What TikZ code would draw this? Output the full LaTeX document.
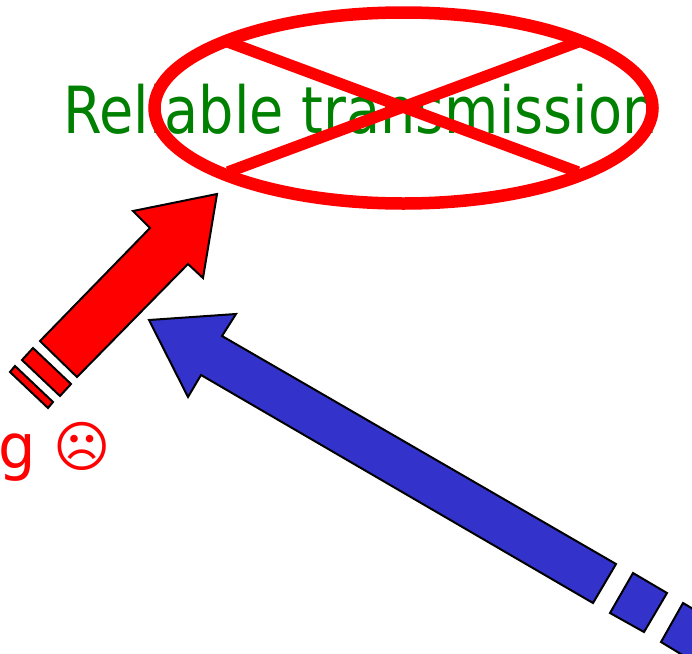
\documentclass[tikz,border=0pt]{standalone}
\usepackage{fontspec}
\setmainfont{DejaVu Sans}
\newfontfamily\condfont[FakeStretch=0.857]{DejaVu Sans}
\newfontfamily\gfont[FakeStretch=0.95]{DejaVu Sans}
\definecolor{tgreen}{RGB}{0,128,0}
\definecolor{tblue}{RGB}{51,51,204}
\tikzset{
  redshape/.style={draw=black,fill=red,line width=2pt,line join=miter},
  blueshape/.style={draw=black,fill=tblue,line width=2pt,line join=miter},
  crossline/.style={draw=red,line width=11.5pt},
}
\begin{document}
\begin{tikzpicture}[x=1pt,y=-1pt]
\useasboundingbox (0,0) rectangle (692,653);
\clip (0,0) rectangle (692,653);
\node[anchor=base west,inner sep=0pt,text=tgreen] (title) at (63,133) {\condfont\fontsize{65}{70}\selectfont Reliable transmission};
\node[anchor=base west,inner sep=0pt,text=red] (gchar) at (-1.5,468) {\gfont\fontsize{62}{70}\selectfont g};
\node[anchor=center,inner sep=0pt,text=red] (frown) at (82.5,446) {\fontsize{55}{60}\selectfont ☹};
\draw[draw=red,line width=12.5pt] (403.5,108) ellipse [x radius=249,y radius=95.5];
\draw[crossline] (228,42) -- (578,172);
\draw[crossline] (578,42) -- (228,172);
\draw[redshape] (217,194) -- (133,211) -- (150,228) -- (40,341) -- (77,377) -- (188,264) -- (203,278) -- cycle;
\draw[redshape] (33,348) -- (71,384) -- (60,396) -- (22,360) -- cycle;
\draw[redshape] (15,366) -- (53,402) -- (48,408) -- (10,372) -- cycle;
\draw[blueshape] (149,320) -- (236,314) -- (222,336) -- (616,564) -- (593,603) -- (201,375) -- (188,397) -- cycle;
\draw[blueshape] (633,573) -- (667,593) -- (644,632) -- (610,613) -- cycle;
\draw[blueshape] (683,603) -- (717,623) -- (694,662) -- (661,642) -- cycle;
\end{tikzpicture}
\end{document}
